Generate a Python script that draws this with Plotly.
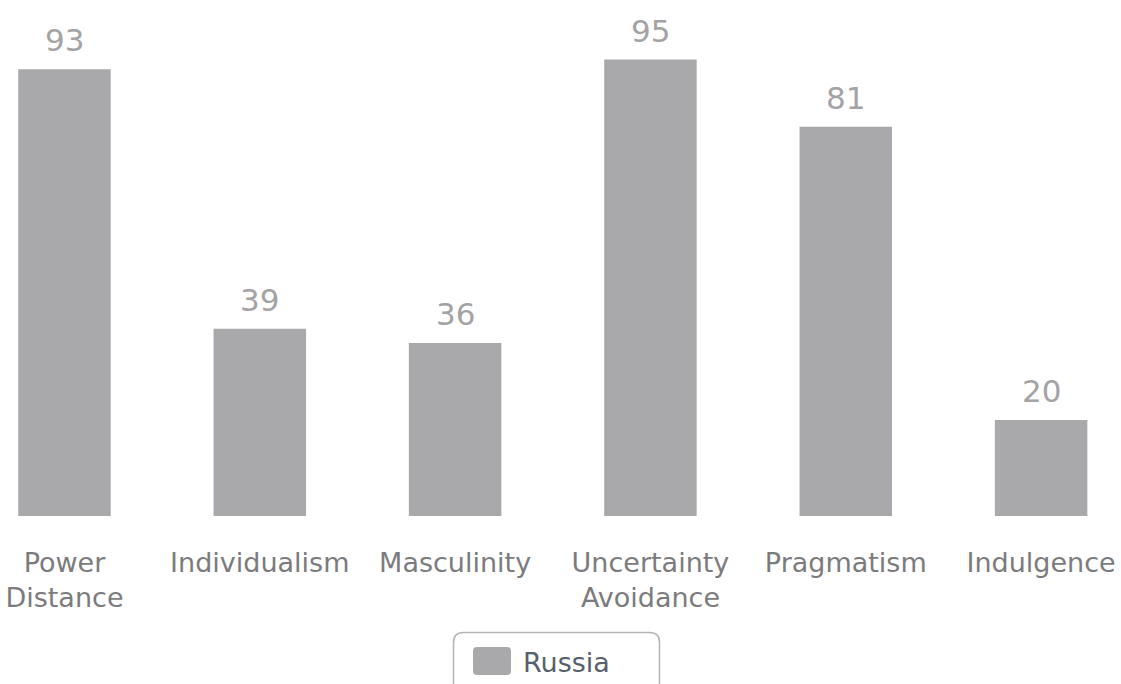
import plotly.graph_objects as go

categories = ["Power<br>Distance", "Individualism", "Masculinity",
              "Uncertainty<br>Avoidance", "Pragmatism", "Indulgence"]
values = [93, 39, 36, 95, 81, 20]
series_name = "Russia"

BAR = "#a9a8ab"
W, H = 1121, 684
PLOT_BOTTOM = 516  # pixel of the axis baseline

def px(x):
    return x / W

def py(y):
    return (PLOT_BOTTOM - y) / PLOT_BOTTOM

idx = list(range(len(categories)))

fig = go.Figure()
fig.add_trace(go.Bar(x=idx, y=values, name=series_name, marker=dict(color=BAR, line=dict(width=0)),
                     showlegend=False, hoverinfo="skip"))

for i, v in zip(idx, values):
    fig.add_annotation(x=i, y=v, text=str(v), showarrow=False, yanchor="bottom",
                       yshift=9, font=dict(family="DejaVu Sans", size=31, color="#a3a3a5"))

# legend box (rounded rectangle) drawn manually
def rounded_rect(x0, y0, x1, y1, r):
    return (f"M {px(x0 + r)},{py(y0)} L {px(x1 - r)},{py(y0)} "
            f"Q {px(x1)},{py(y0)} {px(x1)},{py(y0 + r)} "
            f"L {px(x1)},{py(y1 - r)} Q {px(x1)},{py(y1)} {px(x1 - r)},{py(y1)} "
            f"L {px(x0 + r)},{py(y1)} Q {px(x0)},{py(y1)} {px(x0)},{py(y1 - r)} "
            f"L {px(x0)},{py(y0 + r)} Q {px(x0)},{py(y0)} {px(x0 + r)},{py(y0)} Z")

fig.add_shape(type="path", xref="paper", yref="paper",
              path=rounded_rect(453.5, 632.5, 659.5, 700, 10),
              line=dict(color="#b3b3b3", width=1.5), fillcolor="rgba(255,255,255,0)")
fig.add_shape(type="path", xref="paper", yref="paper",
              path=rounded_rect(473, 647, 511, 675, 4),
              line=dict(width=0), fillcolor=BAR)
fig.add_annotation(xref="paper", yref="paper", x=px(521), y=py(662), xanchor="left", yanchor="middle",
                   text=series_name, showarrow=False,
                   font=dict(family="DejaVu Sans", size=27, color="#56606c"))

fig.update_layout(
    width=W, height=H,
    margin=dict(l=0, r=0, t=0, b=H - PLOT_BOTTOM, pad=0),
    paper_bgcolor="white", plot_bgcolor="white",
    bargap=0.5265,
    font=dict(family="DejaVu Sans"),
    xaxis=dict(range=[-0.330, 5.409], tickmode="array", tickvals=idx, ticktext=categories,
               showgrid=False, zeroline=False, showline=False, ticks="",
               tickfont=dict(family="DejaVu Sans", size=27, color="#7b7b7d"),
               ticklabelstandoff=28),
    yaxis=dict(range=[0, 107.4], visible=False, showgrid=False, zeroline=False),
)

fig.write_html("out.html", config={"displayModeBar": False},
               post_script="document.body.style.margin='0';document.body.style.padding='0';")
